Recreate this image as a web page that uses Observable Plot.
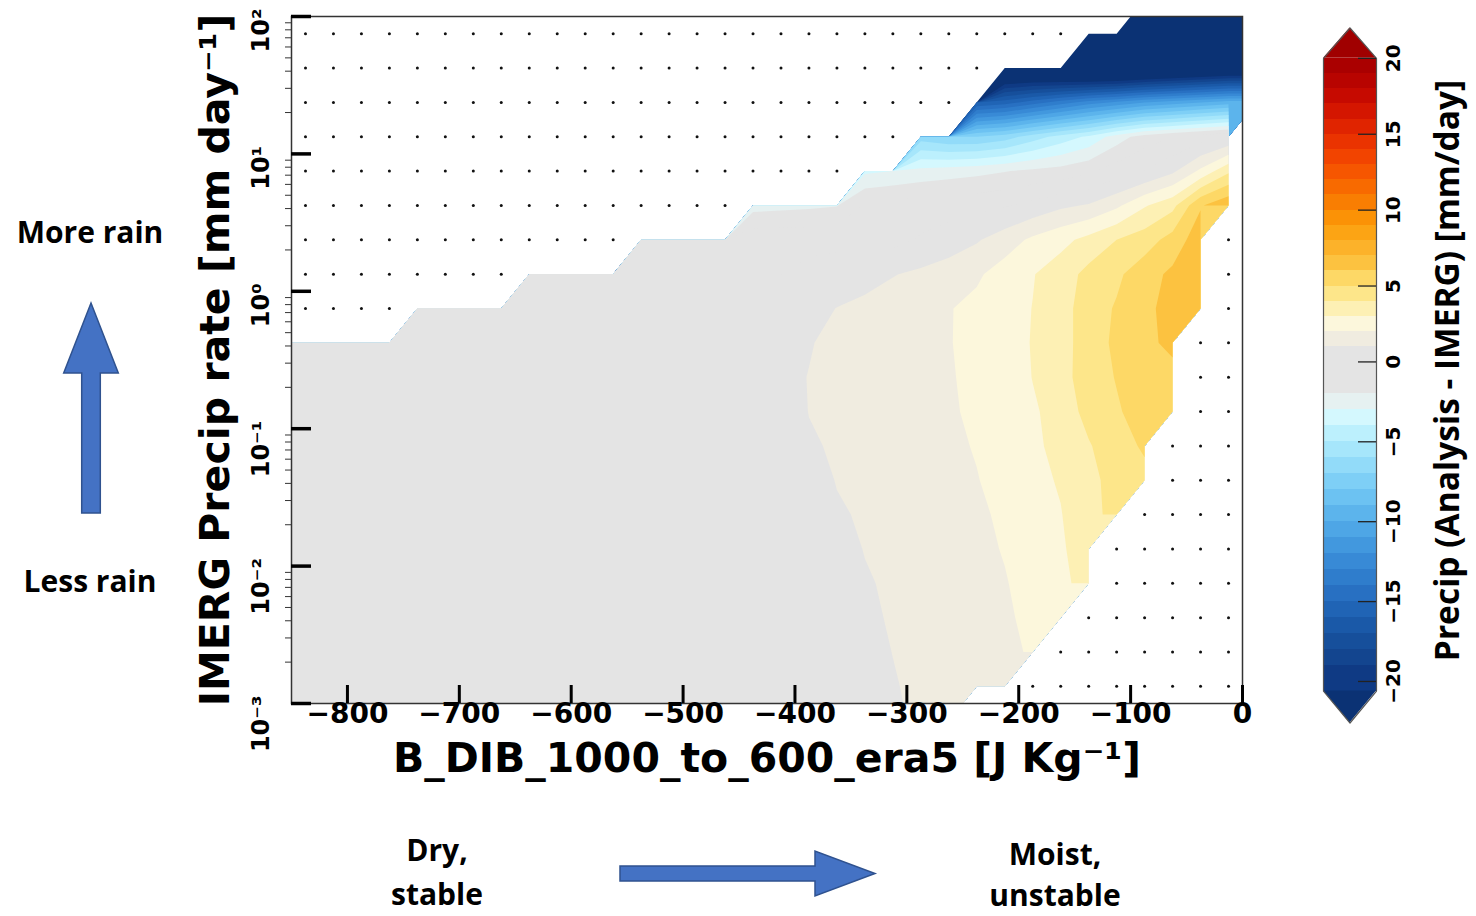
<!DOCTYPE html>
<html><head><meta charset="utf-8">
<script src="https://cdn.jsdelivr.net/npm/d3@7"></script>
<script src="https://cdn.jsdelivr.net/npm/@observablehq/plot@0.6"></script>
<style>
html,body{margin:0;padding:0;background:#fff;}
#wrap{position:relative;width:1476px;height:916px;overflow:hidden;background:#fff;}
#main{position:absolute;left:0;top:0;}
#cbar{position:absolute;left:1300px;top:0;}
#arrows{position:absolute;left:0;top:0;pointer-events:none;}
.note{position:absolute;font-family:"Open Sans",Lato,sans-serif;font-weight:700;font-size:30px;line-height:30px;color:#000;text-align:center;white-space:nowrap;}
</style></head>
<body><div id="wrap">
<div id="main"></div>
<div id="cbar"></div>
<svg id="arrows" width="1476" height="916">
  <polygon points="81.7,513 81.7,373 63.7,373 91,303 118.3,373 100.3,373 100.3,513" fill="#4472c4" stroke="#2f528f" stroke-width="1.5"/>
  <polygon points="620,866 815,866 815,851 875,873.5 815,896 815,881 620,881" fill="#4472c4" stroke="#2f528f" stroke-width="1.5"/>
</svg>
<div class="note" style="left:0;width:180px;top:217px;">More rain</div>
<div class="note" style="left:0;width:180px;top:566px;">Less rain</div>
<div class="note" style="left:337px;width:200px;top:835px;">Dry,</div>
<div class="note" style="left:337px;width:200px;top:879px;">stable</div>
<div class="note" style="left:955px;width:200px;top:839px;">Moist,</div>
<div class="note" style="left:955px;width:200px;top:880px;">unstable</div>
</div>
<script>
const _ = NaN;
// Precip difference (Analysis - IMERG), mm/day, on a 36 x 22 grid.
// Columns: B_DIB = -862.5 ... 12.5 J/kg (step 25); rows: log10(precip) = 2.125 ... -3.125 (step 0.25), top row first.
const gridRows = [
 [_,_,_,_,_,_,_,_,_,_, _,_,_,_,_,_,_,_,_,_, _,_,_,_,_,_,_,_,_,_, _,-35,-35,-35,-35,-35],
 [_,_,_,_,_,_,_,_,_,_, _,_,_,_,_,_,_,_,_,_, _,_,_,_,_,_,_,_,_,-34, -33,-32,-31,-30,-30,-30],
 [_,_,_,_,_,_,_,_,_,_, _,_,_,_,_,_,_,_,_,_, _,_,_,_,_,_,-24,-24,-24.5,-25, -25,-24.5,-24,-23.5,-23,-23],
 [_,_,_,_,_,_,_,_,_,_, _,_,_,_,_,_,_,_,_,_, _,_,_,_,_,-16,-15.5,-14.5,-13.5,-12.5, -11.8,-11,-10.5,-10,-9.5,-9.5],
 [_,_,_,_,_,_,_,_,_,_, _,_,_,_,_,_,_,_,_,_, _,_,_,-6.5,-7,-7,-6.5,-5.5,-4.6,-3.8, -2.5,-1.5,-1,-0.5,0,_],
 [_,_,_,_,_,_,_,_,_,_, _,_,_,_,_,_,_,_,_,_, _,-3.2,-3,-2.7,-2.5,-2.3,-2.05,-1.8,-1.6,-1.2, -0.5,0,0.8,2.2,3.8,_],
 [_,_,_,_,_,_,_,_,_,_, _,_,_,_,_,_,_,-2.4,-2.3,-2.2, -2.05,-0.85,-0.6,-0.5,-0.4,-0.3,-0.1,0.3,0.8,1.1, 1.8,2.9,3.7,5.9,6.8,_],
 [_,_,_,_,_,_,_,_,_,_, _,_,_,-0.3,-0.3,-0.3,-0.3,-0.3,-0.3,-0.3, -0.3,-0.3,-0.3,0.1,0.45,0.9,1.5,2.2,2.7,3.3, 4.0,4.5,5.4,6.6,_,_],
 [_,_,_,_,_,_,_,_,_,0, 0,0,0,0,0,0,0,0,0,0.3, 0.5,0.7,0.95,1.2,1.5,1.85,2.45,2.95,3.5,4.3, 4.8,5.6,6.2,6.6,_,_],
 [_,_,_,_,_,0,0,0,0,0, 0,0,0,0,0,0,0,0.2,0.4,0.7, 1.02,1.2,1.45,1.7,1.95,2.25,2.6,3.02,3.6,4.5, 5.1,5.8,6.3,6.4,_,_],
 [0,0,0,0,0,0,0,0,0,0, 0,0,0,0,0,0,0,0.3,0.6,0.95, 1.2,1.4,1.55,1.75,1.95,2.3,2.6,3.05,3.6,4.5, 5.2,5.7,6.3,_,_,_],
 [0,0,0,0,0,0,0,0,0,0, 0,0,0,0,0,0,0.2,0.5,0.8,1.02, 1.15,1.3,1.5,1.7,1.93,2.2,2.55,3.02,3.6,4.55, 5.05,5.5,5.6,_,_,_],
 [0,0,0,0,0,0,0,0,0,0, 0,0,0,0,0,0,0.2,0.45,0.75,1.01, 1.15,1.3,1.45,1.65,1.9,2.15,2.5,2.9,3.3,4.4, 4.9,5.4,5.5,_,_,_],
 [0,0,0,0,0,0,0,0,0,0, 0,0,0,0,0,0,0.1,0.35,0.65,0.95, 1.05,1.2,1.4,1.6,1.85,2.05,2.4,2.8,3.3,3.9, 4.7,5.1,_,_,_,_],
 [0,0,0,0,0,0,0,0,0,0, 0,0,0,0,0,0,0,0.25,0.5,0.8, 1.02,1.12,1.3,1.5,1.75,1.97,2.25,2.7,3.1,3.7, 4.4,4.8,_,_,_,_],
 [0,0,0,0,0,0,0,0,0,0, 0,0,0,0,0,0,0,0.2,0.4,0.7, 0.95,1.05,1.2,1.4,1.65,1.9,2.1,2.5,2.95,3.8, 4.2,_,_,_,_,_],
 [0,0,0,0,0,0,0,0,0,0, 0,0,0,0,0,0,0,0.1,0.3,0.55, 0.8,1.02,1.12,1.3,1.55,1.8,2.05,2.4,2.85,3.6, _,_,_,_,_,_],
 [0,0,0,0,0,0,0,0,0,0, 0,0,0,0,0,0,0,0,0.2,0.45, 0.7,0.95,1.08,1.25,1.45,1.7,1.95,2.3,2.75,3.4, _,_,_,_,_,_],
 [0,0,0,0,0,0,0,0,0,0, 0,0,0,0,0,0,0,0,0.2,0.4, 0.65,0.9,1.05,1.2,1.4,1.6,1.85,2.25,2.7,_, _,_,_,_,_,_],
 [0,0,0,0,0,0,0,0,0,0, 0,0,0,0,0,0,0,0,0.1,0.3, 0.55,0.8,1.01,1.15,1.35,1.55,1.8,2.1,_,_, _,_,_,_,_,_],
 [0,0,0,0,0,0,0,0,0,0, 0,0,0,0,0,0,0,0,0,0.25, 0.45,0.7,0.95,1.15,1.35,1.55,1.8,_,_,_, _,_,_,_,_,_],
 [0,0,0,0,0,0,0,0,0,0, 0,0,0,0,0,0,0,0,0,0.2, 0.4,0.65,0.9,1.1,1.3,_,_,_,_,_, _,_,_,_,_,_]
];
const colX = d3.range(36).map(i => -862.5 + 25 * i);      // grid node B_DIB values
const rowLog = d3.range(22).map(j => 2.125 - 0.25 * j);   // grid node log10(precip)
const MISSING = -1e6;                                      // below every contour level

const levels = d3.range(-20, 21);            // contour levels, 1 mm/day apart
const thresholds = [-100, ...levels];
const bandColors = [
 "#0b3274","#0f3a84","#13458f","#164f9b","#1a59a8","#2064b5","#2870c2","#2f7dcc","#388ad6","#4298de",
 "#4ea6e6","#5cb4ec","#6cc2f2","#7ecff6","#92dbf9","#a6e6fb","#bcf0fd","#d4f8fe","#e6f1f1","#e4e4e4",
 "#e4e4e4","#e4e4e4","#f0ece0","#fcf7dc","#fdf0b4","#fde68a","#fdd866","#fcc240","#fcb22a","#fca414",
 "#fb9206","#f97e02","#f86a00","#f65600","#f24400","#ea3300","#e02400","#d41600","#c60a00","#b80400",
 "#aa0000","#a00000"
];

const xTicks = [-800, -700, -600, -500, -400, -300, -200, -100, 0];
const xTickLabels = ["−800","−700","−600","−500","−400","−300","−200","−100","0"];
// y is drawn in log10 units (the axis is logarithmic)
const yTicks = [-3, -2, -1, 0, 1, 2];
const yTickLabels = ["10⁻³","10⁻²","10⁻¹","10⁰","10¹","10²"];
const yMinor = [];
for (let e = -3; e < 2; e++) for (let m = 2; m <= 9; m++) yMinor.push(e + Math.log10(m));
const xTitle = "B_DIB_1000_to_600_era5 [J Kg⁻¹]";
const yTitle = "IMERG Precip rate [mm day⁻¹]";
const cbTicks = [-20, -15, -10, -5, 0, 5, 10, 15, 20];
const cbTickLabels = ["−20","−15","−10","−5","0","5","10","15","20"];
const cbTitle = "Precip (Analysis - IMERG) [mm/day]";

const grid = gridRows.flat().map(v => Number.isNaN(v) ? MISSING : v);
const dots = [];
gridRows.forEach((row, j) => row.forEach((v, i) => {
  if (Number.isNaN(v) && colX[i] > -850 && colX[i] < 0 && rowLog[j] > -3 && rowLog[j] < 2)
    dots.push({x: colX[i], y: rowLog[j]});
}));

const W = 1290, H = 800, ML = 291, MR = 48, MT = 16, MB = 97;
const FW = W - ML - MR, FH = H - MT - MB;
const bold = {fontWeight: "bold", fontFamily: "DejaVu Sans", fill: "#000"};

const main = Plot.plot({
  width: W, height: H, marginLeft: ML, marginRight: MR, marginTop: MT, marginBottom: MB,
  style: {background: "white", overflow: "visible"},
  x: {domain: [-850, 0], axis: null},
  y: {domain: [-3, 2], axis: null},
  color: {type: "threshold", domain: levels, range: bandColors},
  marks: [
    Plot.contour(grid, {width: 36, height: 22, x1: -875, x2: 25, y1: 2.25, y2: -3.25,
      fill: Plot.identity, thresholds, stroke: "none", clip: true}),
    Plot.dot(dots, {x: "x", y: "y", r: 1.5, fill: "#111", stroke: "none", clip: true}),
    Plot.frame({stroke: "#333", strokeWidth: 1.5}),
    Plot.ruleX(xTicks, {insetTop: FH - 18, stroke: "#000", strokeWidth: 3}),
    Plot.ruleY(yTicks, {insetRight: FW - 20, stroke: "#000", strokeWidth: 3.5}),
    Plot.ruleY(yMinor, {insetLeft: -6, insetRight: FW, stroke: "#333", strokeWidth: 1}),
    Plot.text(xTicks, {x: d => d, text: (d, i) => xTickLabels[i], frameAnchor: "bottom", dy: 19, textAnchor: "middle", fontSize: 28, ...bold}),
    Plot.text(yTicks, {y: d => d, text: (d, i) => yTickLabels[i], frameAnchor: "left", rotate: -90,
      dx: -30, dy: -8, textAnchor: "end", fontSize: 24, ...bold}),
    Plot.text([xTitle], {text: d => d, frameAnchor: "bottom", dy: 68, textAnchor: "middle", fontSize: 41, ...bold}),
    Plot.text([yTitle], {text: d => d, frameAnchor: "left", rotate: -90, dx: -76, textAnchor: "middle", fontSize: 41, ...bold})
  ]
});
document.getElementById("main").appendChild(main);

const cbBands = levels.slice(0, -1).map(k => ({lo: k === -20 ? -20.6 : k, hi: k + 1, v: k}));
const topTri = [{x: 0, y: 20}, {x: 0.5, y: 22}, {x: 1, y: 20}];
const botTri = [{x: 0, y: -20.6}, {x: 0.5, y: -22.6}, {x: 1, y: -20.6}];
const outline = [{x: 0, y: -20.6}, {x: 0, y: 20}, {x: 0.5, y: 22}, {x: 1, y: 20}, {x: 1, y: -20.6}, {x: 0.5, y: -22.6}, {x: 0, y: -20.6}];

const cb = Plot.plot({
  width: 176, height: 740, marginLeft: 23, marginRight: 100, marginTop: 27.5, marginBottom: 17.5,
  style: {background: "white", overflow: "visible"},
  x: {domain: [0, 1], axis: null},
  // positive half of the bar is drawn slightly shorter than the negative half, as in the original colour bar
  y: {domain: [-22.6, 20.9], transform: v => (v > 0 ? v * 0.95 : v), axis: null},
  color: {type: "threshold", domain: levels, range: bandColors},
  marks: [
    Plot.rect(cbBands, {x1: 0, x2: 1, y1: "lo", y2: "hi", fill: "v", shapeRendering: "crispEdges"}),
    Plot.areaY(topTri, {x: "x", y1: 20, y2: "y", fill: bandColors[41]}),
    Plot.areaY(botTri, {x: "x", y1: -20.6, y2: "y", fill: bandColors[0]}),
    Plot.line(outline, {x: "x", y: "y", stroke: "#555", strokeWidth: 1.2}),
    Plot.ruleY(cbTicks, {insetLeft: 35, stroke: "#222", strokeWidth: 1.3}),
    Plot.text(cbTicks, {y: d => d, text: (d, i) => cbTickLabels[i], frameAnchor: "right", dx: 17, rotate: -90, textAnchor: "middle", fontSize: 20, ...bold}),
    Plot.text([cbTitle], {text: d => d, frameAnchor: "right", dx: 72, dy: -5, rotate: -90, textAnchor: "middle", fontSize: 33.5,
      fontWeight: "bold", fontFamily: "Open Sans", fill: "#000"})
  ]
});
document.getElementById("cbar").appendChild(cb);
</script>
</body></html>
